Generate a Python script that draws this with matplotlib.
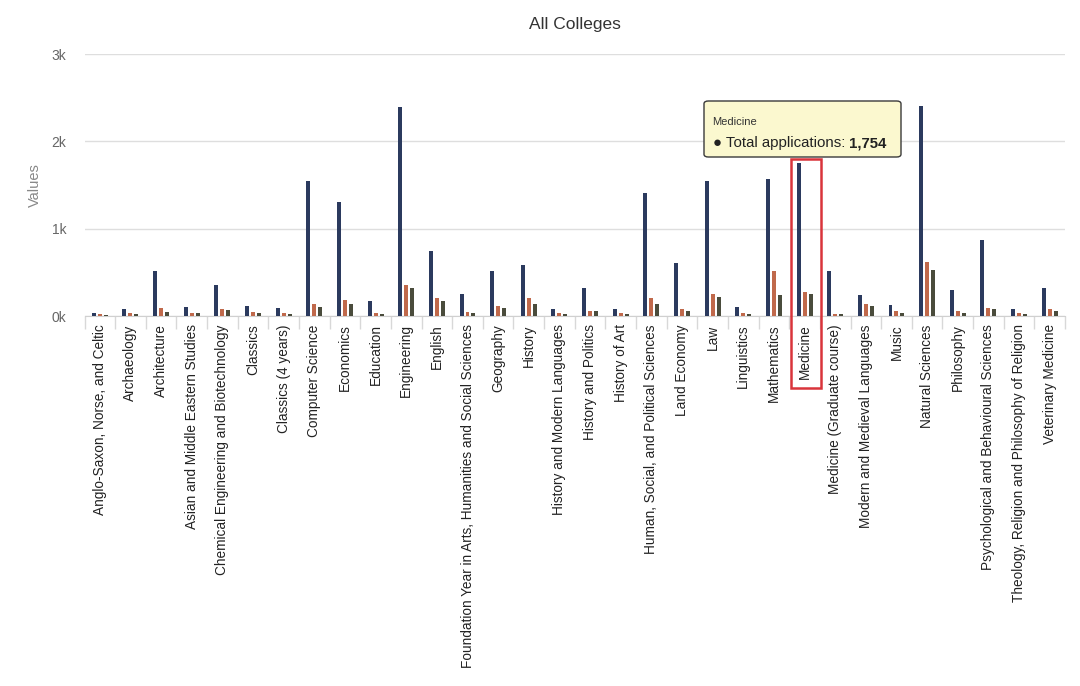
import matplotlib
matplotlib.use("Agg")
import matplotlib.pyplot as plt
import numpy as np
from matplotlib.patches import Rectangle, FancyBboxPatch
import matplotlib.transforms as mtransforms

plt.rcParams['font.family'] = ['Liberation Sans', 'DejaVu Sans']

categories = [
    "Anglo-Saxon, Norse, and Celtic", "Archaeology", "Architecture",
    "Asian and Middle Eastern Studies", "Chemical Engineering and Biotechnology",
    "Classics", "Classics (4 years)", "Computer Science", "Economics", "Education",
    "Engineering", "English",
    "Foundation Year in Arts, Humanities and Social Sciences", "Geography",
    "History", "History and Modern Languages", "History and Politics",
    "History of Art", "Human, Social, and Political Sciences", "Land Economy",
    "Law", "Linguistics", "Mathematics", "Medicine", "Medicine (Graduate course)",
    "Modern and Medieval Languages", "Music", "Natural Sciences", "Philosophy",
    "Psychological and Behavioural Sciences",
    "Theology, Religion and Philosophy of Religion", "Veterinary Medicine",
]
total_applications = [40, 75, 510, 105, 350, 120, 95, 1550, 1300, 175,
                      2390, 745, 250, 510, 580, 75, 320, 75, 1410, 610,
                      1550, 105, 1570, 1754, 520, 235, 130, 2410, 295, 875,
                      85, 320]
offers = [20, 35, 95, 35, 80, 50, 35, 135, 180, 35,
          350, 205, 45, 120, 205, 35, 60, 35, 205, 75,
          255, 35, 510, 275, 25, 140, 60, 615, 60, 95,
          35, 80]
acceptances = [12, 25, 50, 30, 65, 32, 22, 105, 140, 22,
               320, 172, 32, 92, 142, 18, 58, 18, 142, 58,
               217, 18, 245, 256, 22, 115, 32, 522, 32, 80,
               22, 58]
series_names = ["Total applications", "Offers", "Acceptances"]
series_colors = ["#2b3a5e", "#c0694b", "#4a4c3c"]
y_ticks = [0, 1000, 2000, 3000]
y_tick_labels = ["0k", "1k", "2k", "3k"]
highlight = "Medicine"

fig = plt.figure(figsize=(10.8, 6.86), dpi=100)
W, H = 1080, 686
ax = fig.add_axes([84.5 / W, 1 - 316 / H, (1065 - 84.5) / W, (316 - 54) / H])

x = np.arange(len(categories))
bw = 0.13
off = 0.195
for i, (vals, c, n) in enumerate(zip([total_applications, offers, acceptances],
                                     series_colors, series_names)):
    ax.bar(x + (i - 1) * off, vals, width=bw, color=c, label=n, zorder=3)

ax.set_xlim(-0.5, len(categories) - 0.5)
ax.set_ylim(0, 3000)
ax.set_yticks(y_ticks)
ax.set_yticklabels(y_tick_labels, color="#666666", fontsize=10)
ax.tick_params(axis='y', length=0, pad=13)
ax.yaxis.grid(True, color="#dedede", linewidth=1.0, zorder=0)
for s in ["top", "right", "left"]:
    ax.spines[s].set_visible(False)
ax.spines["bottom"].set_color("#d0d0d0")

ax.set_xticks(x)
ax.set_xticklabels(categories, rotation=90, fontsize=9.8, color="#222222",
                   ha="center", va="top")
ax.tick_params(axis='x', length=0, pad=6)
ax.set_xticks(np.arange(len(categories) + 1) - 0.5, minor=True)
ax.tick_params(axis='x', which='minor', length=9, color="#d8d8d8", width=1)

ax.set_ylabel("Values", color="#888888", fontsize=10.5, labelpad=7)
ax.set_title("All Colleges", fontsize=12.5, color="#333333", pad=18)

# highlight box around Medicine
mi = categories.index(highlight)
trans = mtransforms.blended_transform_factory(ax.transData, ax.transAxes)
ax.add_patch(Rectangle((mi - 0.44, -0.275), 0.98, 0.875, transform=trans,
                       fill=False, edgecolor="#d9343b", linewidth=1.8,
                       clip_on=False, zorder=5))

# tooltip
val = total_applications[mi]
tx0, ty0, tw, th = 704, 101, 197, 56
ax_fig = fig.transFigure
box = FancyBboxPatch((tx0 / W, 1 - (ty0 + th) / H), tw / W, th / H,
                     boxstyle="round,pad=0,rounding_size=0.004",
                     transform=ax_fig, facecolor="#fbf8cf", edgecolor="#3a3a3a",
                     linewidth=1.0, zorder=10)
fig.patches.append(box)
fig.text(712 / W, 1 - 122 / H, highlight, fontsize=8, color="#333333",
         va="center", ha="left", zorder=11)
t1 = fig.text(713 / W, 1 - 143 / H, "\u25cf Total applications: ",
              fontsize=10.8, color="#222222", va="center", ha="left", zorder=11)
fig.canvas.draw()
bb = t1.get_window_extent()
fig.text(bb.x1 / W, 1 - 143 / H, f"{val:,}", fontsize=10.8, fontweight="bold",
         color="#222222", va="center", ha="left", zorder=11)

fig.savefig("out.png", dpi=100, facecolor="white")
